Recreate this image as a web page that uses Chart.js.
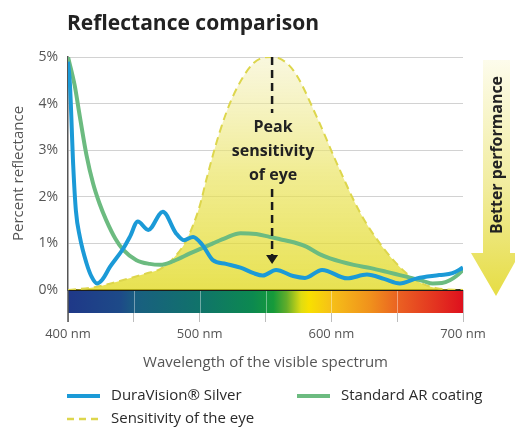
<!DOCTYPE html>
<html>
<head>
<meta charset="utf-8">
<script src="https://cdn.jsdelivr.net/npm/chart.js@4/dist/chart.umd.min.js"></script>
<style>
  html, body { margin: 0; padding: 0; background: #fff; }
</style>
</head>
<body>
<canvas id="chart" width="515" height="430"></canvas>
<script>
'use strict';

/* ── data ── */
const SILVER_NM  = [400, 401.5, 404, 406, 409, 414, 418, 422, 426, 432, 442, 447, 453, 461, 472, 482, 488, 495, 502, 510, 520, 531, 541, 548, 558, 571, 580, 593, 612, 627, 640, 652, 665, 682, 692, 700];
const SILVER_PCT = [4.9, 4.4, 2.65, 1.7, 1.14, 0.58, 0.28, 0.14, 0.22, 0.5, 0.89, 1.14, 1.47, 1.29, 1.68, 1.22, 1.07, 1.14, 0.97, 0.64, 0.56, 0.48, 0.36, 0.31, 0.43, 0.3, 0.26, 0.43, 0.25, 0.33, 0.24, 0.14, 0.25, 0.32, 0.36, 0.48];

const AR_NM  = [400, 405, 409, 414, 419, 424, 429, 436, 442, 452, 462, 470, 480, 493, 510, 520, 531, 543, 553, 561, 572, 581, 591, 599, 617, 630, 642, 652, 662, 670, 677, 684, 690, 695, 700];
const AR_PCT = [5.0, 4.4, 3.72, 2.9, 2.29, 1.85, 1.5, 1.1, 0.86, 0.64, 0.56, 0.54, 0.62, 0.79, 1.0, 1.12, 1.22, 1.2, 1.14, 1.09, 1.02, 0.93, 0.77, 0.68, 0.54, 0.47, 0.39, 0.32, 0.25, 0.19, 0.14, 0.15, 0.21, 0.3, 0.43];

const EYE_NM  = [400, 420, 440, 460, 470, 480, 490, 500, 505, 515, 525, 541, 555, 571, 589, 604, 622, 639, 657, 668, 680, 700];
const EYE_PCT = [0, 0.06, 0.2, 0.36, 0.45, 0.68, 1.07, 1.8, 2.36, 3.37, 4.14, 4.87, 5.0, 4.72, 3.71, 2.73, 1.65, 0.92, 0.36, 0.15, 0.04, 0];

const SERIES_LABELS = ['DuraVision® Silver', 'Standard AR coating', 'Sensitivity of the eye'];
const X_TICKS   = [400, 450, 500, 550, 600, 650, 700];
const X_LABELED = [400, 500, 600, 700];
const Y_TICKS   = [0, 1, 2, 3, 4, 5];
const PEAK_NM   = 555;
const PEAK_TEXT = ['Peak', 'sensitivity', 'of eye'];

const FONT = "'Open Sans', sans-serif";
const COLORS = {
  silver: '#1b9ad7',
  ar    : '#6cbb80',
  eye   : '#ddd64c',
  text  : '#222222',
  axis  : '#555555',
  grid  : '#d2d2d2',
};

/* spectrum bar colours by wavelength */
const SPECTRUM_STOPS = [
  [400, '#1f3888'], [440, '#1d4a88'], [452, '#195f80'], [500, '#10736a'],
  [540, '#0c8950'], [556, '#169a3a'], [566, '#62ad2a'], [577, '#dfdc12'],
  [583, '#f8e000'], [600, '#f6c018'], [630, '#f0901c'], [652, '#ea5f22'],
  [680, '#e33220'], [700, '#de101e'],
];

const toPoints = (xs, ys) => xs.map((x, i) => ({ x, y: ys[i] }));

/* ── plugins ── */
const spectrumBar = {
  id: 'spectrumBar',
  beforeDatasetsDraw(chart) {
    const { ctx, chartArea, scales: { x } } = chart;
    const top = chartArea.bottom, h = 23;
    const x0 = x.getPixelForValue(400), x1 = x.getPixelForValue(700);
    const g = ctx.createLinearGradient(x0, 0, x1, 0);
    SPECTRUM_STOPS.forEach(([nm, c]) => g.addColorStop((nm - 400) / 300, c));
    ctx.save();
    ctx.fillStyle = g;
    ctx.fillRect(x0, top, x1 - x0, h);
    ctx.strokeStyle = 'rgba(255,255,255,0.4)';
    ctx.lineWidth = 1;
    X_TICKS.slice(1, -1).forEach(nm => {
      const px = Math.round(x.getPixelForValue(nm)) + 0.5;
      ctx.beginPath(); ctx.moveTo(px, top); ctx.lineTo(px, top + h); ctx.stroke();
    });
    ctx.fillStyle = '#1c1c1c';
    ctx.fillRect(x0, top - 1, x1 - x0, 2);
    ctx.strokeStyle = COLORS.axis;
    ctx.lineWidth = 1.5;
    ctx.beginPath(); ctx.moveTo(x0, top); ctx.lineTo(x0, top + 32); ctx.stroke();
    ctx.restore();
  },
};

const annotations = {
  id: 'annotations',
  afterDraw(chart) {
    const { ctx, scales: { x, y } } = chart;
    ctx.save();

    /* title */
    ctx.fillStyle = COLORS.text;
    ctx.font = `bold 22px ${FONT}`;
    ctx.textAlign = 'left';
    ctx.textBaseline = 'alphabetic';
    ctx.fillText('Reflectance comparison', 67, 30, 252);

    /* peak arrow */
    const px = x.getPixelForValue(PEAK_NM);
    ctx.strokeStyle = '#1a1a1a';
    ctx.lineWidth = 2.5;
    ctx.setLineDash([8, 5]);
    ctx.beginPath();
    ctx.moveTo(px, y.getPixelForValue(5)); ctx.lineTo(px, 113);
    ctx.moveTo(px, 189); ctx.lineTo(px, 256);
    ctx.stroke();
    ctx.setLineDash([]);
    ctx.fillStyle = '#1a1a1a';
    ctx.beginPath();
    ctx.moveTo(px - 6, 255); ctx.lineTo(px + 6, 255); ctx.lineTo(px, 264);
    ctx.closePath(); ctx.fill();

    ctx.fillStyle = COLORS.text;
    ctx.font = `bold 16px ${FONT}`;
    ctx.textAlign = 'center';
    ctx.textBaseline = 'middle';
    PEAK_TEXT.forEach((t, i) => ctx.fillText(t, px + 1, 127 + i * 24));

    /* better performance arrow */
    const ag = ctx.createLinearGradient(0, 60, 0, 296);
    ag.addColorStop(0, '#fdfcec');
    ag.addColorStop(0.55, '#f1ec9c');
    ag.addColorStop(1, '#e6dd44');
    ctx.fillStyle = ag;
    ctx.beginPath();
    ctx.moveTo(483, 60); ctx.lineTo(510, 60); ctx.lineTo(510, 253);
    ctx.lineTo(520, 253); ctx.lineTo(496, 296); ctx.lineTo(471, 253);
    ctx.lineTo(483, 253); ctx.closePath(); ctx.fill();
    ctx.translate(497, 155);
    ctx.rotate(-Math.PI / 2);
    ctx.fillStyle = COLORS.text;
    ctx.font = `bold 16px ${FONT}`;
    ctx.fillText('Better performance', 0, 0, 158);
    ctx.restore();
  },
};

const customLegend = {
  id: 'customLegend',
  afterDraw(chart) {
    const { ctx } = chart;
    const slots = [[67, 396], [297, 396], [67, 419]];
    ctx.save();
    ctx.font = `15px ${FONT}`;
    ctx.textBaseline = 'middle';
    ctx.textAlign = 'left';
    chart.data.datasets.forEach((ds, i) => {
      const [lx, ly] = slots[i];
      ctx.strokeStyle = ds.borderColor;
      ctx.lineWidth = ds.borderDash ? 2.5 : 4;
      ctx.setLineDash(ds.borderDash ? [7, 5] : []);
      ctx.beginPath(); ctx.moveTo(lx, ly); ctx.lineTo(lx + 33, ly); ctx.stroke();
      ctx.setLineDash([]);
      ctx.fillStyle = '#2a2a2a';
      ctx.fillText(ds.label, lx + 44, ly);
    });
    ctx.restore();
  },
};

/* ── chart ── */
function drawChart() {
  const canvas = document.getElementById('chart');
  Chart.defaults.font.family = FONT;
  Chart.defaults.color = COLORS.axis;

  new Chart(canvas, {
    type: 'line',
    data: {
      datasets: [
        {
          label: SERIES_LABELS[0],
          data: toPoints(SILVER_NM, SILVER_PCT),
          borderColor: COLORS.silver,
          borderWidth: 4,
          pointRadius: 0,
          cubicInterpolationMode: 'monotone',
          fill: false,
          order: 1,
        },
        {
          label: SERIES_LABELS[1],
          data: toPoints(AR_NM, AR_PCT),
          borderColor: COLORS.ar,
          borderWidth: 4,
          pointRadius: 0,
          cubicInterpolationMode: 'monotone',
          fill: false,
          order: 2,
        },
        {
          label: SERIES_LABELS[2],
          data: toPoints(EYE_NM, EYE_PCT),
          borderColor: COLORS.eye,
          borderWidth: 2,
          borderDash: [8, 5],
          pointRadius: 0,
          cubicInterpolationMode: 'monotone',
          fill: 'origin',
          backgroundColor: ctx => {
            const area = ctx.chart.chartArea;
            if (!area) return 'rgba(233,226,87,0.65)';
            const g = ctx.chart.ctx.createLinearGradient(0, area.top, 0, area.bottom);
            g.addColorStop(0, 'rgba(243,239,189,0.5)');
            g.addColorStop(0.5, 'rgba(233,226,87,0.65)');
            g.addColorStop(1, 'rgba(224,216,23,0.75)');
            return g;
          },
          order: 3,
        },
      ],
    },
    options: {
      responsive: false,
      animation: false,
      layout: { padding: { top: 57, right: 52, left: 0, bottom: 0 } },
      plugins: { legend: { display: false }, tooltip: { enabled: false } },
      scales: {
        x: {
          type: 'linear',
          min: 400, max: 700,
          afterFit: s => { s.height = 140; },
          afterBuildTicks: s => { s.ticks = X_TICKS.map(v => ({ value: v })); },
          ticks: {
            padding: 4,
            font: { size: 13 },
            color: COLORS.axis,
            maxRotation: 0,
            autoSkip: false,
            callback: v => X_LABELED.includes(v) ? `${v} nm` : '',
          },
          grid: { drawOnChartArea: false, drawTicks: true, tickLength: 32, color: '#bdbdbd' },
          border: { display: false },
          title: {
            display: true,
            text: 'Wavelength of the visible spectrum',
            font: { size: 15 },
            color: COLORS.axis,
            padding: { top: 0, bottom: 58 },
          },
        },
        y: {
          min: 0, max: 5,
          afterFit: s => { s.width = 68; },
          afterBuildTicks: s => { s.ticks = Y_TICKS.map(v => ({ value: v })); },
          ticks: { padding: 10, font: { size: 14 }, color: COLORS.axis, callback: v => `${v}%` },
          grid: { color: COLORS.grid, drawTicks: false },
          border: { display: true, color: COLORS.axis, width: 1.5 },
          title: {
            display: true,
            text: 'Percent reflectance',
            font: { size: 15 },
            color: COLORS.axis,
            padding: { top: 10, bottom: 0 },
          },
        },
      },
    },
    plugins: [spectrumBar, annotations, customLegend],
  });
}

document.addEventListener('DOMContentLoaded', drawChart);
</script>
</body>
</html>
